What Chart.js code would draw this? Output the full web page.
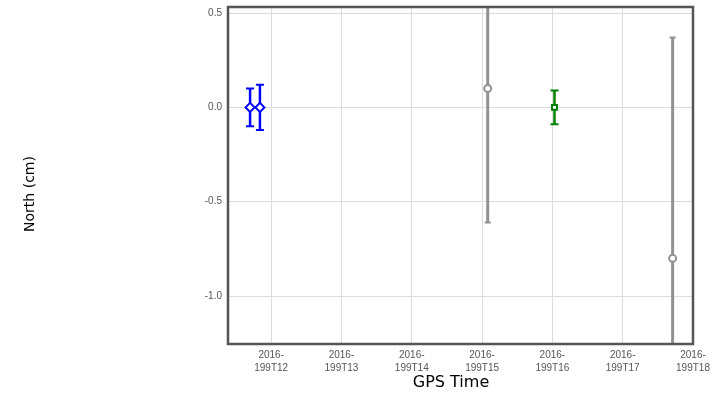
<!DOCTYPE html>
<html>
<head>
<meta charset="utf-8">
<title>North (cm) vs GPS Time</title>
<script src="https://cdn.jsdelivr.net/npm/chart.js@4.4.0/dist/chart.umd.min.js"></script>
<style>
    body { margin: 0; background: #fff; }
    #wrap { width: 723px; height: 396px; }
</style>
</head>
<body>
<div id="wrap"><canvas id="north-chart" width="723" height="396"></canvas></div>
<script>
// Data (hours of 2016-199)
const blueTimes = [11.70, 11.84];
const blueNorth = [0.0, 0.0];
const blueErr = [0.10, 0.12];

const grayTimes = [15.08, 17.71];
const grayNorth = [0.10, -0.80];
const grayErr = [0.71, 1.17];

const greenTimes = [16.03];
const greenNorth = [0.0];
const greenErr = [0.09];

const tickHours = [12, 13, 14, 15, 16, 17, 18];
const tickLabels = ['199T12', '199T13', '199T14', '199T15', '199T16', '199T17', '199T18'];
const yTicks = [0.5, 0.0, -0.5, -1.0];

// Build scatter points
function toPoints(times, values) {
    return times.map((t, i) => ({ x: t, y: values[i] }));
}

// Error bars drawn through the chart scales
const errorBars = {
    id: 'errorBars',
    beforeDatasetsDraw(chart) {
        const ctx = chart.ctx;
        const area = chart.chartArea;
        const xs = chart.scales.x;
        const ys = chart.scales.y;
        ctx.save();
        ctx.beginPath();
        ctx.rect(area.left, area.top, area.right - area.left, area.bottom - area.top);
        ctx.clip();
        chart.data.datasets.forEach(ds => {
            ds.data.forEach((p, i) => {
                const e = ds.errors[i];
                const px = xs.getPixelForValue(p.x);
                const top = ys.getPixelForValue(p.y + e);
                const bot = ys.getPixelForValue(p.y - e);
                ctx.strokeStyle = ds.borderColor;
                ctx.lineWidth = ds.barWidth;
                ctx.beginPath();
                ctx.moveTo(px, top);
                ctx.lineTo(px, bot);
                ctx.stroke();
                ctx.lineWidth = 2;
                ctx.beginPath();
                ctx.moveTo(px - ds.capHalf, top);
                ctx.lineTo(px + ds.capHalf, top);
                ctx.moveTo(px - ds.capHalf, bot);
                ctx.lineTo(px + ds.capHalf, bot);
                ctx.stroke();
            });
        });
        ctx.restore();
    }
};

// Frame around the plot and the axis titles
const frameAndTitles = {
    id: 'frameAndTitles',
    afterDraw(chart) {
        const ctx = chart.ctx;
        const a = chart.chartArea;
        ctx.save();
        ctx.strokeStyle = '#555';
        ctx.lineWidth = 2.5;
        ctx.strokeRect(a.left, a.top, a.right - a.left, a.bottom - a.top);

        ctx.fillStyle = '#000';
        ctx.textAlign = 'center';
        ctx.textBaseline = 'middle';
        ctx.font = '16px "DejaVu Sans"';
        ctx.fillText('GPS Time', 451, 383);

        ctx.translate(30, 194);
        ctx.rotate(-Math.PI / 2);
        ctx.font = '14px "DejaVu Sans"';
        ctx.fillText('North (cm)', 0, 0);
        ctx.restore();
    }
};

const ctx = document.getElementById('north-chart').getContext('2d');
new Chart(ctx, {
    type: 'scatter',
    data: {
        datasets: [
            {
                data: toPoints(blueTimes, blueNorth),
                errors: blueErr,
                borderColor: '#0000ff',
                backgroundColor: '#ffffff',
                pointStyle: 'rectRot',
                pointRadius: 4.5,
                pointBorderWidth: 2,
                barWidth: 2.5,
                capHalf: 4
            },
            {
                data: toPoints(grayTimes, grayNorth),
                errors: grayErr,
                borderColor: '#929292',
                backgroundColor: '#ffffff',
                pointStyle: 'circle',
                pointRadius: 3.5,
                pointBorderWidth: 2,
                barWidth: 3,
                capHalf: 3
            },
            {
                data: toPoints(greenTimes, greenNorth),
                errors: greenErr,
                borderColor: '#008000',
                backgroundColor: '#ffffff',
                pointStyle: 'rect',
                pointRadius: 3.5,
                pointBorderWidth: 2,
                barWidth: 2.5,
                capHalf: 4
            }
        ]
    },
    options: {
        responsive: false,
        animation: false,
        layout: { padding: { top: 7, right: 30, bottom: 0, left: 0 } },
        plugins: {
            legend: { display: false },
            tooltip: { enabled: false }
        },
        scales: {
            x: {
                type: 'linear',
                min: 11.386,
                max: 18,
                afterBuildTicks: axis => {
                    axis.ticks = tickHours.map(v => ({ value: v }));
                },
                afterFit: axis => { axis.height = 52; },
                grid: { color: '#dddddd', drawTicks: false },
                border: { display: false },
                ticks: {
                    padding: 5,
                    maxRotation: 0,
                    autoSkip: false,
                    color: '#555',
                    font: { family: '"Liberation Sans", Arial', size: 10, lineHeight: 1.25 },
                    callback: function(value) {
                        const i = tickHours.indexOf(value);
                        return ['2016-', tickLabels[i]];
                    }
                }
            },
            y: {
                min: -1.254,
                max: 0.532,
                afterBuildTicks: axis => {
                    axis.ticks = yTicks.map(v => ({ value: v }));
                },
                afterFit: axis => {
                    axis.width = 228;
                    axis.paddingTop = 0;
                    axis.paddingBottom = 0;
                },
                grid: { color: '#dddddd', drawTicks: false },
                border: { display: false },
                ticks: {
                    padding: 6,
                    color: '#555',
                    font: { family: '"Liberation Sans", Arial', size: 10 },
                    callback: function(value) {
                        return value.toFixed(1);
                    }
                }
            }
        }
    },
    plugins: [errorBars, frameAndTitles]
});
</script>
</body>
</html>
